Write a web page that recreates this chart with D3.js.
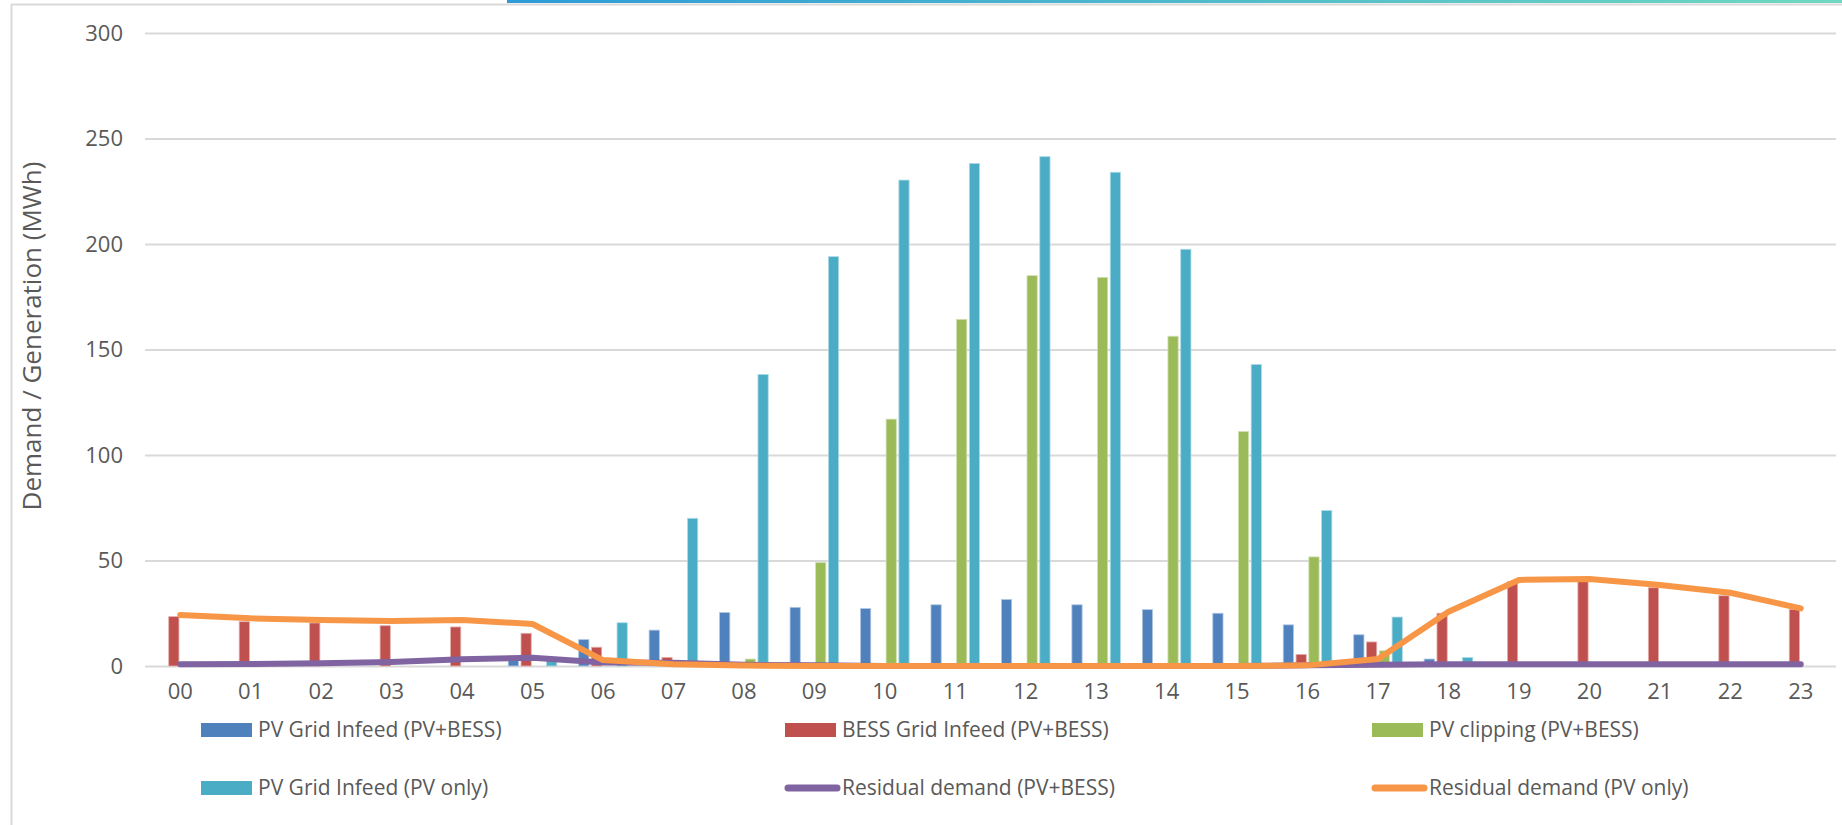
<!DOCTYPE html>
<html><head><meta charset="utf-8">
<script src="https://cdn.jsdelivr.net/npm/d3@7"></script>
<style>
body{margin:0;background:#fff;overflow:hidden;}
svg{display:block;font-family:"Open Sans",sans-serif;}
</style>
</head><body>
<svg id="chart" width="1842" height="825"></svg>
<script>
// ---- data ----
const hours = ["00","01","02","03","04","05","06","07","08","09","10","11","12","13","14","15","16","17","18","19","20","21","22","23"];
const yTicks = [0,50,100,150,200,250,300];
const yTitle = "Demand / Generation (MWh)";

const pvGridBess = [0,0,0,0,0,3,12.5,17,25.3,27.8,27.2,29,31.5,29,26.7,25,19.5,14.8,3.3,0,0,0,0,0];
const bessGrid   = [23.4,21,20.4,19.1,18.5,15.5,8.9,4.1,0,0,0,0,0,0,0,0,5.5,11.4,25,40,40.3,37.1,33.3,26.9];
const pvClipping = [0,0,0,0,0,0,0,0,3.3,49,117,164.3,185,184.2,156.3,111.1,51.7,7.2,0,0,0,0,0,0];
const pvGridOnly = [0,0,0,0,0,3,20.5,70,138.2,194,230.3,238.2,241.4,234,197.5,142.9,73.7,23.2,4,0,0,0,0,0];
const resBess    = [0.8,0.9,1.3,1.9,3.2,3.9,1.7,1.5,0.6,0.3,0,0,0,0,0,0,0.3,0.6,0.8,0.8,0.8,0.8,0.8,0.8];
const resPvOnly  = [24.2,22.6,21.8,21.3,21.8,19.9,2.8,0.8,0.2,0,0,0,0,0,0,0,0.3,3.3,25.7,40.8,41.2,38.4,34.7,27.3];

const barSeries = [
  {name:"PV Grid Infeed (PV+BESS)",   values:pvGridBess, color:"#4F81BD"},
  {name:"BESS Grid Infeed (PV+BESS)", values:bessGrid,   color:"#C0504D"},
  {name:"PV clipping (PV+BESS)",      values:pvClipping, color:"#9BBB59"},
  {name:"PV Grid Infeed (PV only)",   values:pvGridOnly, color:"#4BACC6"}
];
const lineSeries = [
  {name:"Residual demand (PV+BESS)", values:resBess,   color:"#8064A2"},
  {name:"Residual demand (PV only)", values:resPvOnly, color:"#F79646"}
];

// ---- layout ----
const svg = d3.select("#chart");
const plot = {left:145, right:1836, top:33, bottom:666};
const txt = "#595959", grid = "#D9D9D9";
const fs = 22, fsLeg = 21, fsTitle = 26;

// frame / decoration
const defs = svg.append("defs");
const grad = defs.append("linearGradient").attr("id","topbar").attr("x1","0%").attr("x2","100%");
grad.append("stop").attr("offset","0%").attr("stop-color","#2E9BD8");
grad.append("stop").attr("offset","100%").attr("stop-color","#70D8C0");
svg.append("line").attr("x1",11).attr("x2",1842).attr("y1",4.5).attr("y2",4.5).attr("stroke","#DADADA").attr("stroke-width",2);
svg.append("line").attr("x1",11.5).attr("x2",11.5).attr("y1",4).attr("y2",825).attr("stroke","#DADADA").attr("stroke-width",2);
svg.append("rect").attr("x",507).attr("y",0).attr("width",1842-507).attr("height",3).attr("fill","url(#topbar)");

const x0 = d3.scaleBand().domain(hours).range([plot.left, plot.right]).padding(0);
const groupW = 48.6;
const x1 = d3.scaleBand().domain(barSeries.map(s=>s.name))
  .range([(x0.bandwidth()-groupW)/2, (x0.bandwidth()+groupW)/2]).paddingInner(0.2).paddingOuter(0);
const y = d3.scaleLinear().domain([0,300]).range([plot.bottom, plot.top]);

// y axis with gridlines
const yAxis = svg.append("g").attr("transform",`translate(${plot.left},0)`)
  .call(d3.axisLeft(y).tickValues(yTicks).tickSize(-(plot.right-plot.left)).tickPadding(22));
yAxis.select(".domain").remove();
yAxis.selectAll(".tick line").attr("stroke",grid).attr("stroke-width",2);
yAxis.selectAll(".tick text").attr("fill",txt).style("font-size",fs+"px").style("font-family","Open Sans");

// x axis
const xAxis = svg.append("g").attr("transform",`translate(0,${plot.bottom})`)
  .call(d3.axisBottom(x0).tickSize(0).tickPadding(17));
xAxis.select(".domain").remove();
xAxis.selectAll(".tick text").attr("fill",txt).style("font-size",fs+"px").style("font-family","Open Sans");

// y title
svg.append("text").attr("transform",`translate(32,336) rotate(-90)`)
  .attr("text-anchor","middle").attr("dy","0.35em").attr("fill",txt)
  .style("font-size",fsTitle+"px").text(yTitle);

// bars
const gBars = svg.append("g");
barSeries.forEach(s=>{
  gBars.append("g").selectAll("rect")
    .data(s.values.map((v,i)=>({h:hours[i],v})).filter(d=>d.v>0))
    .join("rect")
    .attr("x",d=>x0(d.h)+x1(s.name))
    .attr("width",x1.bandwidth())
    .attr("y",d=>y(d.v))
    .attr("height",d=>y(0)-y(d.v))
    .attr("fill",s.color)
    .attr("stroke",d3.interpolateRgb(s.color,"#ffffff")(0.55))
    .attr("stroke-width",0.8);
});

// lines
const line = d3.line().x((d,i)=>x0(hours[i])+x0.bandwidth()/2).y(d=>y(d));
lineSeries.forEach(s=>{
  svg.append("path").datum(s.values).attr("d",line)
    .attr("fill","none").attr("stroke",s.color).attr("stroke-width",6)
    .attr("stroke-linejoin","round").attr("stroke-linecap","round");
});

// legend
const legendItems = [
  {s:barSeries[0], type:"rect", col:0, row:0},
  {s:barSeries[1], type:"rect", col:1, row:0},
  {s:barSeries[2], type:"rect", col:2, row:0},
  {s:barSeries[3], type:"rect", col:0, row:1},
  {s:lineSeries[0], type:"line", col:1, row:1},
  {s:lineSeries[1], type:"line", col:2, row:1}
];
const colX = [201, 785, 1372], rowY = [730, 788];
const gLeg = svg.append("g");
legendItems.forEach(it=>{
  const gx = colX[it.col], gy = rowY[it.row];
  if(it.type==="rect"){
    gLeg.append("rect").attr("x",gx).attr("y",gy-7).attr("width",51).attr("height",14).attr("fill",it.s.color);
  } else {
    gLeg.append("line").attr("x1",gx+3).attr("x2",gx+52).attr("y1",gy).attr("y2",gy)
      .attr("stroke",it.s.color).attr("stroke-width",7).attr("stroke-linecap","round");
  }
  gLeg.append("text").attr("x",gx+57).attr("y",gy).attr("dy","0.35em").attr("fill",txt)
    .style("font-size",fsLeg+"px").text(it.s.name);
});
</script>
</body></html>
